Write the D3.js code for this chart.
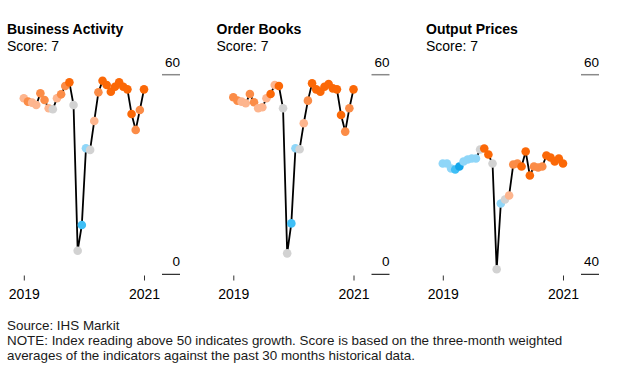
<!DOCTYPE html>
<html><head><meta charset="utf-8">
<script src="https://cdn.jsdelivr.net/npm/d3@7"></script>
<style>
body{margin:0;background:#fff;}
svg{display:block;font-family:"Liberation Sans",Arial,sans-serif;}
</style></head>
<body><svg id="c" width="619" height="367"></svg>
<script>
// 30 monthly readings (first and last labelled by year)
const months = ["2019-03","2019-04","2019-05","2019-06","2019-07","2019-08","2019-09","2019-10","2019-11","2019-12",
  "2020-01","2020-02","2020-03","2020-04","2020-05","2020-06","2020-07","2020-08","2020-09","2020-10",
  "2020-11","2020-12","2021-01","2021-02","2021-03","2021-04","2021-05","2021-06","2021-07","2021-08"];
const tickLabels = ["2019","2021"];
const panelTitles = ["Business Activity","Order Books","Output Prices"];
const panelScores = [7,7,7];
const yDomains = [[0,60],[0,60],[40,60]];

const businessActivity = [52.9,51.9,51.6,50.9,54.4,52.4,49.9,49.6,52.9,54.1,56.6,57.7,50.9,7.1,14.8,37.9,37.4,46.1,54.7,58.2,56.9,54.9,56.4,57.7,56.4,55.6,48.2,43.4,49.4,55.6];
const orderBooks = [53.2,52.2,51.9,51.4,54.2,51.7,49.9,50.2,52.9,54.2,56.9,56.6,49.9,6.3,15.3,37.9,37.6,45.4,52.2,57.4,55.6,54.9,56.4,57.2,55.9,55.6,47.9,42.9,49.9,55.6];
const outputPrices = [51.1,51.1,50.6,50.5,50.8,51.3,51.5,51.6,51.6,52.5,52.6,52.0,51.1,40.5,47.1,47.5,47.9,51.0,51.1,50.8,52.3,49.9,50.8,50.7,50.8,51.9,51.7,51.3,51.6,51.1];

// score level of each reading vs. history (-3 .. 3)
const businessLevels = [1,2,1,1,2,2,1,0,1,2,2,3,0,0,-2,-1,0,1,2,3,3,3,3,3,3,3,3,2,2,3];
const orderLevels = [2,2,1,1,2,2,1,1,1,3,1,3,0,0,-2,-1,0,1,2,3,3,3,3,3,3,3,3,2,2,3];
const priceLevels = [-1,-1,-1,-2,-3,-1,-1,-1,-1,0,3,3,0,0,-1,0,1,2,2,3,3,3,2,2,2,3,3,3,3,3];

const seriesList = [businessActivity, orderBooks, outputPrices];
const levelList = [businessLevels, orderLevels, priceLevels];

const color = d3.scaleOrdinal()
  .domain([-3,-2,-1,0,1,2,3])
  .range(["#14a6ea","#3fbff6","#8fd6f8","#d2d2d2","#fdb58e","#fb8c47","#fb6807"]);

const svg = d3.select("#c");
const panelStep = 209.5;

seriesList.forEach((vals, p) => {
  const g = svg.append("g").attr("transform", `translate(${p*panelStep},0)`);
  const x = d3.scalePoint().domain(months).range([23.8, 144]);
  const y = d3.scaleLinear().domain(yDomains[p]).range([274.3, 74.7]);

  g.append("text").attr("x", 7).attr("y", 34)
    .attr("font-size", 14).attr("font-weight", "bold").attr("fill", "#000")
    .text(panelTitles[p]);
  g.append("text").attr("x", 7).attr("y", 50.5)
    .attr("font-size", 14).attr("fill", "#000")
    .text("Score: " + panelScores[p]);

  // y axis: top and bottom markers
  const yTicks = yDomains[p];
  const yAxis = g.append("g");
  yTicks.forEach((t, k) => {
    yAxis.append("line").attr("x1", 162).attr("x2", 180)
      .attr("y1", y(t)).attr("y2", y(t))
      .attr("stroke", k === 0 ? "#000" : "#8a8a8a").attr("stroke-width", k === 0 ? 1 : 1.5);
    yAxis.append("text").attr("x", 180).attr("y", y(t) - 8)
      .attr("text-anchor", "end").attr("font-size", 13.5).attr("fill", "#000")
      .text(t);
  });

  // x axis ticks at first and last reading
  const xAxis = d3.axisBottom(x)
    .tickValues([months[0], months[months.length-1]])
    .tickFormat((d, i) => tickLabels[i])
    .tickSize(5).tickPadding(9);
  const ax = g.append("g").attr("transform", "translate(0,275.5)").call(xAxis);
  ax.select(".domain").remove();
  ax.selectAll(".tick line").attr("stroke", "#333");
  ax.selectAll(".tick text").attr("font-size", 14).attr("fill", "#000")
    .attr("font-family", "Liberation Sans, Arial, sans-serif");

  const line = d3.line().x((d, i) => x(months[i])).y(d => y(d));
  g.append("path").datum(vals).attr("d", line)
    .attr("fill", "none").attr("stroke", "#000").attr("stroke-width", 1.8)
    .attr("stroke-linejoin", "round");

  g.selectAll("circle").data(vals).join("circle")
    .attr("cx", (d, i) => x(months[i])).attr("cy", d => y(d))
    .attr("r", 4.3)
    .attr("fill", (d, i) => color(levelList[p][i]));
});

const foot = svg.append("g").attr("font-size", 13.4).attr("fill", "#1a1a1a");
foot.append("text").attr("x", 7).attr("y", 330).text("Source: IHS Markit");
foot.append("text").attr("x", 7).attr("y", 345).text("NOTE: Index reading above 50 indicates growth. Score is based on the three-month weighted");
foot.append("text").attr("x", 7).attr("y", 360).text("averages of the indicators against the past 30 months historical data.");
</script></body></html>
